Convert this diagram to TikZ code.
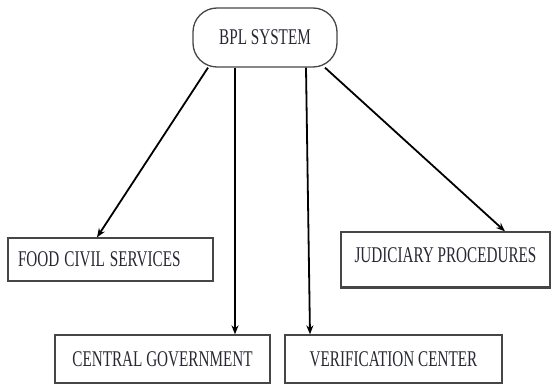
\documentclass[tikz,border=0pt]{standalone}
\usepackage{fontspec}
\setmainfont{Liberation Serif}
\usetikzlibrary{arrows.meta}
\definecolor{boxgray}{RGB}{70,70,70}
\definecolor{txtgray}{RGB}{40,40,52}
\newcommand{\tallt}[1]{\scalebox{0.98}[1.45]{#1}}

\begin{document}
\begin{tikzpicture}[x=1pt,y=-1pt,
    box/.style={draw=boxgray,line width=1.3pt,inner sep=0pt,text=txtgray,font=\fontsize{15.5}{18}\selectfont},
    link/.style={-{Stealth[length=9pt,width=7pt]},line width=1.8pt}]
            \useasboundingbox (0,0) rectangle (555,385);
            \node[box,rounded corners=24pt,minimum width=144pt,minimum height=59pt] (bpl) at (265,37.5){\tallt{BPL SYSTEM}};
            \node[box,minimum width=205pt,minimum height=43pt,text width=185pt,align=left] (food) at (110.5,259.5){\tallt{FOOD CIVIL SERVICES}};
            \node[box,minimum width=209pt,minimum height=55pt,text depth=9pt] (judi) at (445.5,259.5){\tallt{JUDICIARY PROCEDURES}};
            \node[box,minimum width=215pt,minimum height=48pt] (central) at (162.5,359){\tallt{CENTRAL GOVERNMENT}};
            \node[box,minimum width=217pt,minimum height=48pt] (verif) at (393.5,359){\tallt{VERIFICATION CENTER}};
            \draw[boxgray,line width=2.6pt] (judi.south west) -- (judi.south east);
            \draw[link] ([xshift=-57pt]bpl.south) -- ([xshift=-13.5pt]food.north);
            \draw[link] ([xshift=-30pt]bpl.south) -- ([xshift=72.5pt]central.north);
            \draw[link] ([xshift=41pt]bpl.south) -- ([xshift=-83.5pt]verif.north);
            \draw[link] ([xshift=60pt]bpl.south) -- ([xshift=59.5pt]judi.north);
        \end{tikzpicture}
\end{document}
